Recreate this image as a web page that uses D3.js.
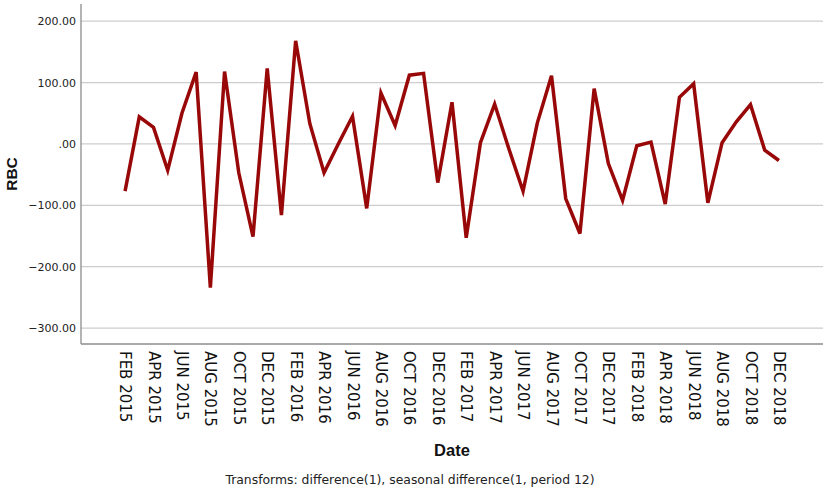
<!DOCTYPE html>
<html>
<head>
<meta charset="utf-8">
<script src="https://cdn.jsdelivr.net/npm/d3@7"></script>
<style>
  body { margin: 0; background: #fff; }
  #chart svg { display: block; }
</style>
</head>
<body>
<div id="chart"></div>
<script>
// monthly series, Feb 2015 .. Dec 2018
const months = d3.timeMonth.range(new Date(2015, 1, 1), new Date(2019, 0, 1));
const rbc = [
  -77, 44, 27, -43, 50, 117, -234, 118, -47, -151, 123, -116,
  168, 33, -47, 0, 45, -105, 83, 30, 112, 115, -63, 68,
  -153, 2, 65, -8, -77, 34, 111, -89, -146, 90, -32, -92,
  -3, 3, -98, 76, 98, -96, 2, 36, 64, -10, -27
];
const yTicks = [200, 100, 0, -100, -200, -300];
const tickLabels = [
  "FEB 2015", "APR 2015", "JUN 2015", "AUG 2015", "OCT 2015", "DEC 2015",
  "FEB 2016", "APR 2016", "JUN 2016", "AUG 2016", "OCT 2016", "DEC 2016",
  "FEB 2017", "APR 2017", "JUN 2017", "AUG 2017", "OCT 2017", "DEC 2017",
  "FEB 2018", "APR 2018", "JUN 2018", "AUG 2018", "OCT 2018", "DEC 2018"
];

const width = 829, height = 492;
const margin = { top: 4, right: 6, bottom: 148, left: 81 };

const svg = d3.select("#chart").append("svg")
  .attr("width", width)
  .attr("height", height);

const data = months.map((m, i) => ({ date: m, value: rbc[i] }));
const fmtMonth = d3.timeFormat("%b %Y");

const x = d3.scalePoint()
  .domain(data.map(d => fmtMonth(d.date).toUpperCase()))
  .range([margin.left, width - margin.right])
  .padding(3.1);

const y = d3.scaleLinear()
  .domain([-326, 228])
  .range([height - margin.bottom, margin.top]);

// gridlines
svg.append("g")
  .selectAll("line")
  .data(yTicks)
  .join("line")
  .attr("x1", margin.left)
  .attr("x2", width - margin.right)
  .attr("y1", d => y(d))
  .attr("y2", d => y(d))
  .attr("stroke", "#cdcdcd")
  .attr("stroke-width", 1.3);

// y axis
const yAxis = svg.append("g")
  .attr("transform", `translate(${margin.left},0)`)
  .call(d3.axisLeft(y).tickValues(yTicks).tickSize(0).tickPadding(5)
    .tickFormat(d => d3.format(".2f")(d).replace(/^(-?)0\./, "$1.")));
yAxis.select(".domain").remove();
yAxis.selectAll("text")
  .attr("font-family", "DejaVu Sans")
  .attr("font-size", 11)
  .attr("fill", "#222");

// x axis labels
const xAxis = svg.append("g")
  .attr("transform", `translate(0,${height - margin.bottom})`)
  .call(d3.axisBottom(x).tickValues(tickLabels).tickSize(0));
xAxis.select(".domain").remove();
xAxis.selectAll("text")
  .attr("font-family", "DejaVu Sans")
  .attr("font-size", 15)
  .attr("fill", "#111")
  .attr("text-anchor", "start")
  .attr("transform", "rotate(90)")
  .attr("x", 7)
  .attr("y", 0)
  .attr("dy", "0.36em");

// axis frame lines
svg.append("line")
  .attr("x1", margin.left).attr("x2", margin.left)
  .attr("y1", margin.top).attr("y2", height - margin.bottom)
  .attr("stroke", "#8c8c8c").attr("stroke-width", 1.3);
svg.append("line")
  .attr("x1", margin.left).attr("x2", width - margin.right)
  .attr("y1", height - margin.bottom).attr("y2", height - margin.bottom)
  .attr("stroke", "#8c8c8c").attr("stroke-width", 1.3);

// series line
const line = d3.line()
  .x(d => x(fmtMonth(d.date).toUpperCase()))
  .y(d => y(d.value));

svg.append("path")
  .datum(data)
  .attr("fill", "none")
  .attr("stroke", "#990808")
  .attr("stroke-width", 3.5)
  .attr("stroke-linejoin", "miter")
  .attr("d", line);

// axis titles
svg.append("text")
  .attr("transform", `translate(17,${(margin.top + height - margin.bottom) / 2}) rotate(-90)`)
  .attr("text-anchor", "middle")
  .attr("font-family", "Liberation Sans")
  .attr("font-weight", "bold")
  .attr("font-size", 15.5)
  .attr("fill", "#111")
  .text("RBC");

svg.append("text")
  .attr("x", (margin.left + width - margin.right) / 2)
  .attr("y", 456)
  .attr("text-anchor", "middle")
  .attr("font-family", "Liberation Sans")
  .attr("font-weight", "bold")
  .attr("font-size", 16.5)
  .attr("fill", "#111")
  .text("Date");

svg.append("text")
  .attr("x", 410)
  .attr("y", 484)
  .attr("text-anchor", "middle")
  .attr("font-family", "DejaVu Sans")
  .attr("font-size", 12.4)
  .attr("fill", "#222")
  .text("Transforms: difference(1), seasonal difference(1, period 12)");
</script>
</body>
</html>
